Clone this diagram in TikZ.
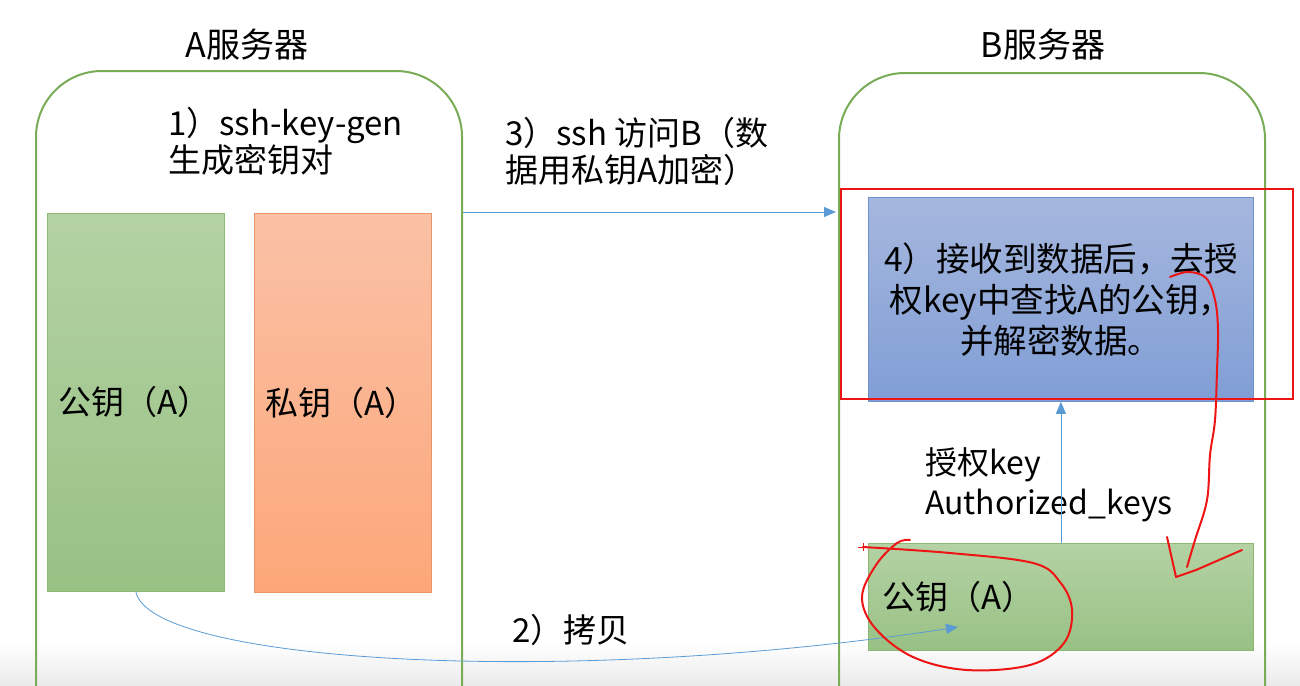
\documentclass[tikz,border=0pt]{standalone}
\usepackage{fontspec}
\setmainfont{Noto Sans CJK SC}
\usetikzlibrary{arrows.meta,calc}

\definecolor{serverline}{RGB}{120,172,86}
\definecolor{linkblue}{RGB}{91,155,213}
\definecolor{pubtop}{RGB}{180,210,164}
\definecolor{pubbot}{RGB}{152,193,132}
\definecolor{pubedge}{RGB}{140,184,116}
\definecolor{privtop}{RGB}{250,193,166}
\definecolor{privbot}{RGB}{252,167,121}
\definecolor{privedge}{RGB}{232,150,104}
\definecolor{dectop}{RGB}{166,183,222}
\definecolor{decbot}{RGB}{128,158,213}
\definecolor{decedge}{RGB}{110,145,205}
\definecolor{pen}{RGB}{238,20,20}
\definecolor{haze}{RGB}{234,234,234}

\newcommand\bodyfont{\fontsize{33}{37}\selectfont}

\begin{document}
\begin{tikzpicture}[x=1pt,y=-1pt,
  server/.style={draw=serverline, line width=2pt, rounded corners=66pt,
    minimum width=426pt, minimum height=700pt, anchor=north west},
  title/.style={font=\fontsize{34}{38}\selectfont, inner sep=0pt},
  caption/.style={font=\bodyfont, align=left, anchor=west, inner sep=0pt},
  pubkey/.style={top color=pubtop, bottom color=pubbot, draw=pubedge,
    line width=0.8pt, font=\fontsize{33}{37}\selectfont, align=left,
    anchor=north west},
  privkey/.style={top color=privtop, bottom color=privbot, draw=privedge,
    line width=0.8pt, font=\fontsize{33}{37}\selectfont, align=left,
    anchor=north west},
  decrypt/.style={top color=dectop, bottom color=decbot, draw=decedge,
    line width=0.8pt, font=\fontsize{33.5}{41}\selectfont, align=center,
    anchor=north west},
  link/.style={draw=linkblue, line width=0.8pt,
    -{Triangle[length=12pt,width=10pt]}},
  penline/.style={draw=pen, line width=2pt, line cap=round, line join=round},
]
\useasboundingbox (0,0) rectangle (1300,685);
\clip (0,0) rectangle (1300,685);
\fill[white] (0,0) rectangle (1300,685);
% soft grey band along the lower edge
\node[anchor=north west, inner sep=0pt, outer sep=0pt, minimum width=1300pt,
  minimum height=42pt, top color=white, bottom color=haze] (band) at (0,643) {};

% the two servers
\node[server] (serverA) at (35,70) {};
\node[server] (serverB) at (838,72) {};
\node[title] (titleA) at (247,45) {A服务器};
\node[title] (titleB) at (1043,45) {B服务器};

% server A: key pair
\node[caption] (gen) at (168,141) {1）ssh-key-gen\\生成密钥对};
\node[pubkey, minimum height=378pt, text width=155pt, inner xsep=11pt]
  (pubA) at (47,213) {公钥（A）};
\node[privkey, minimum height=379pt, text width=155pt, inner xsep=11pt]
  (privA) at (254,213) {私钥（A）};

% server B: decryption and authorized keys
\node[decrypt, minimum height=204pt, text width=365pt, inner xsep=10pt]
  (dec) at (868,197) {4）接收到数据后，去授\\权key中查找A的公钥，\\并解密数据。};
\node[pubkey, minimum height=107pt, text width=357pt, inner xsep=14pt]
  (pubB) at (868,543) {公钥（A）};
\node[caption, font=\fontsize{32}{40}\selectfont] (auth) at (925,485)
  {授权key\\Authorized\_keys};

% connectors
\coordinate (sshLevel) at (0,212);
\draw[link] (serverA.east |- sshLevel) -- ($(serverB.west |- sshLevel)+(-2,0)$);
\node[caption] (ssh) at (505,151) {3）ssh 访问B（数\\据用私钥A加密）};

\draw[link] (pubB.north) -- (dec.south);

\coordinate (copyEnd) at (958,627);
\draw[link] (pubA.south) .. controls (150,662) and (560,688) .. (copyEnd);
\node[caption] (copy) at (512,630) {2）拷贝};

% red pen marks
\node[draw=pen, line width=2.4pt, minimum width=452pt, minimum height=210pt,
  anchor=north west, inner sep=0pt] (focus) at (840,188) {};
\draw[penline] plot[smooth, tension=0.6] coordinates {
  (863,547) (950,553) (1033,563) (1060,582) (1072,610) (1064,643)
  (1030,665) (967,670) (913,657) (875,628) (862,597) (876,565) (897,543) (910,540)};
\draw[pen, line width=1pt] (858,547) -- (868,547) (863,543) -- (863,551);
\draw[penline] plot[smooth, tension=0.6] coordinates {
  (1170,277) (1188,272) (1206,278) (1215,300) (1218,330) (1217,370)
  (1215,420) (1210,455) (1207,500) (1195,540) (1187,567)};
\draw[penline] (1167,537) -- (1176,577) -- (1196,570) -- (1242,550);
\end{tikzpicture}
\end{document}
